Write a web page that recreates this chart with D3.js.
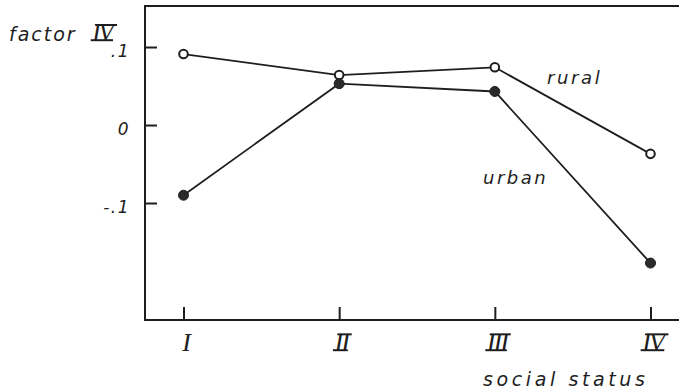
<!DOCTYPE html>
<html>
<head>
<meta charset="utf-8">
<script src="https://cdn.jsdelivr.net/npm/d3@7"></script>
<style>
  html, body { margin: 0; padding: 0; background: #fff; }
  svg { display: block; }
  .lbl { font-family: "DejaVu Sans", "Liberation Sans", sans-serif; font-style: italic; fill: #1e1e1e; }
  .num { font-family: "Liberation Serif", serif; font-style: italic; fill: #1e1e1e; }
</style>
</head>
<body>
<svg id="chart" width="679" height="390"></svg>
<script>
// Social status classes along the x axis
const statusClasses = ["I", "II", "III", "IV"];
// Factor IV scores per class
const ruralValues = [0.091, 0.064, 0.074, -0.037];
const urbanValues = [-0.090, 0.053, 0.043, -0.177];
// Labelled y ticks
const yTickValues = [0.1, 0, -0.1];
const yTickLabels = [".1", "0", "-.1"];

const svg = d3.select("#chart");
const ink = "#1e1e1e";

const frame = { left: 145, top: 6, right: 679, bottom: 320 };

const x = d3.scalePoint()
  .domain(statusClasses)
  .range([183.5, 650.5]);

const y = d3.scaleLinear()
  .domain([-0.25, 0.1526])
  .range([frame.bottom, frame.top]);

// Frame: left axis, top edge, bottom axis
svg.append("path")
  .attr("d", `M${frame.right},${frame.top} H${frame.left} V${frame.bottom} H${frame.right}`)
  .attr("fill", "none")
  .attr("stroke", ink)
  .attr("stroke-width", 2);

// Y axis ticks (drawn inward) and labels
const yAxis = d3.axisRight(y)
  .tickValues(yTickValues)
  .tickSize(12)
  .tickFormat("");
const gy = svg.append("g").attr("transform", `translate(${frame.left},0)`).call(yAxis);
gy.select(".domain").remove();
gy.selectAll(".tick line").attr("stroke", ink).attr("stroke-width", 2);

svg.selectAll(".ytl")
  .data(yTickValues)
  .enter().append("text")
  .attr("class", "lbl")
  .attr("x", 130)
  .attr("y", d => y(d) + 10)
  .attr("text-anchor", "end")
  .attr("font-size", 17)
  .attr("letter-spacing", 1.5)
  .text((d, i) => yTickLabels[i]);

// X axis ticks (drawn inward)
const xAxis = d3.axisTop(x).tickSize(13).tickFormat("");
const gx = svg.append("g").attr("transform", `translate(0,${frame.bottom})`).call(xAxis);
gx.select(".domain").remove();
gx.selectAll(".tick line").attr("stroke", ink).attr("stroke-width", 2);

// Roman numeral labels, multi-stroke numerals carry top and bottom bars
function numeral(g, label, cx, baseline, size) {
  const t = g.append("text")
    .attr("class", "num")
    .attr("x", cx)
    .attr("y", baseline)
    .attr("text-anchor", "middle")
    .attr("font-size", size)
    .attr("letter-spacing", -2)
    .text(label);
  if (label.length > 1) {
    const b = t.node().getBBox();
    const capTop = baseline - size * 0.66;
    const slant = size * 0.2;
    const x0 = b.x + 1, x1 = b.x + b.width - 1;
    g.append("line").attr("x1", x0 + slant * 0.6).attr("x2", x1 + slant * 0.3)
      .attr("y1", capTop + 0.5).attr("y2", capTop + 0.5).attr("stroke", ink).attr("stroke-width", 2);
    g.append("line").attr("x1", x0 - slant * 0.3).attr("x2", x1 - slant * 0.5)
      .attr("y1", baseline - 0.8).attr("y2", baseline - 0.8).attr("stroke", ink).attr("stroke-width", 2);
  }
}
statusClasses.forEach(c => numeral(svg, c, x(c) + 2, 351, 26));

// Axis titles
svg.append("text").attr("class", "lbl")
  .attr("x", 9).attr("y", 41)
  .attr("font-size", 19).attr("letter-spacing", 2)
  .text("factor");
numeral(svg, "IV", 102, 41, 25);

svg.append("text").attr("class", "lbl")
  .attr("x", 483).attr("y", 386)
  .attr("font-size", 19).attr("letter-spacing", 3.6)
  .text("social  status");

// Series lines and markers
const line = d3.line()
  .x((d, i) => x(statusClasses[i]))
  .y(d => y(d));

function series(values, filled) {
  svg.append("path")
    .datum(values)
    .attr("d", line)
    .attr("fill", "none")
    .attr("stroke", ink)
    .attr("stroke-width", 1.8);
  svg.append("g").selectAll("circle")
    .data(values)
    .enter().append("circle")
    .attr("cx", (d, i) => x(statusClasses[i]))
    .attr("cy", d => y(d))
    .attr("r", filled ? 5 : 4.3)
    .attr("fill", filled ? "#2a2a2a" : "#fff")
    .attr("stroke", ink)
    .attr("stroke-width", filled ? 1 : 2);
}
series(ruralValues, false);
series(urbanValues, true);

// Series names
svg.append("text").attr("class", "lbl")
  .attr("x", 547).attr("y", 84)
  .attr("font-size", 18).attr("letter-spacing", 2.6)
  .text("rural");
svg.append("text").attr("class", "lbl")
  .attr("x", 483).attr("y", 184)
  .attr("font-size", 18).attr("letter-spacing", 2.5)
  .text("urban");
</script>
</body>
</html>
